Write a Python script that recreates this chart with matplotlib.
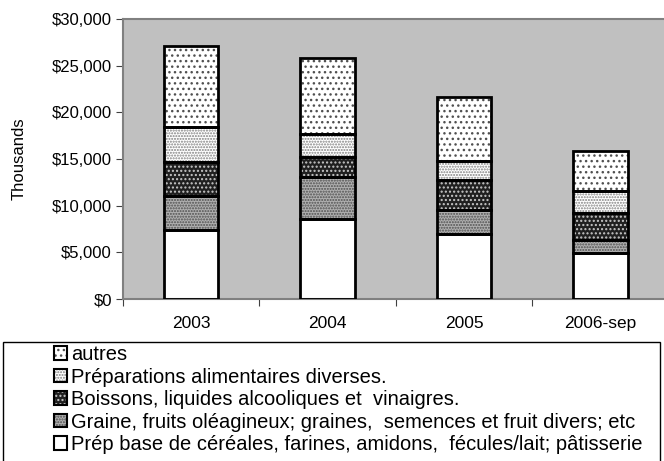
import matplotlib
matplotlib.use("Agg")
import matplotlib.pyplot as plt
import matplotlib.patches as mpatches
from matplotlib.legend_handler import HandlerTuple
import numpy as np
from matplotlib.ticker import FuncFormatter

plt.rcParams['font.family'] = ['Liberation Sans', 'DejaVu Sans']
plt.rcParams['hatch.linewidth'] = 1.0

# data (thousands of $)
years = ["2003", "2004", "2005", "2006-sep"]
cereales = [7350, 8550, 6950, 4900]
graine = [3650, 4550, 2600, 1400]
boissons = [3700, 2150, 3250, 2950]
preparations = [3700, 2450, 2000, 2300]
autres = [8700, 8100, 6800, 4350]

# label, values, face, hatch, hatch colour
series = [
    ("Prép base de céréales, farines, amidons,  fécules/lait; pâtisserie", cereales, "white", None, "white"),
    ("Graine, fruits oléagineux; graines,  semences et fruit divers; etc", graine, "#b0b0b0", "......", "#505050"),
    ("Boissons, liquides alcooliques et  vinaigres.", boissons, "#202020", "....", "#c8c8c8"),
    ("Préparations alimentaires diverses.", preparations, "white", "......", "#808080"),
    ("autres", autres, "white", "...", "#505050"),
]

fig = plt.figure(figsize=(6.64, 4.61), dpi=100)
ax = fig.add_axes([123/664, 1-299/461, (668.5-123)/664, 280/461])
ax.set_facecolor("#c0c0c0")

x = np.arange(len(years))
w = 0.4
bottom = np.zeros(len(years))
handles = []
for label, vals, fc, hatch, hc in series:
    vals = np.array(vals)
    ax.bar(x, vals, w, bottom=bottom, color=fc, hatch=hatch, edgecolor=hc, linewidth=0, zorder=2)
    ax.bar(x, vals, w, bottom=bottom, facecolor="none", edgecolor="black", linewidth=2, zorder=3)
    bottom += vals
    fill = mpatches.Patch(facecolor=fc, hatch=hatch, edgecolor=hc, linewidth=0)
    outline = mpatches.Patch(facecolor="none", edgecolor="black", linewidth=1.5)
    handles.append((fill, outline))

ax.set_ylim(0, 30000)
ax.set_xlim(-0.5, 3.5)
ax.set_yticks(np.arange(0, 30001, 5000))
ax.yaxis.set_major_formatter(FuncFormatter(lambda v, p: "${:,.0f}".format(v)))
ax.set_xticks(np.arange(-0.5, 3.6, 1.0))
ax.set_xticklabels([])
ax.set_xticks(x, minor=True)
ax.set_xticklabels(years, minor=True)
ax.tick_params(axis="x", which="minor", length=0, pad=12, labelsize=12.5)
ax.tick_params(axis="x", which="major", length=5, color="#404040")
ax.tick_params(axis="y", length=5, color="#404040", labelsize=12, pad=3)
for s in ax.spines.values():
    s.set_color("#808080")
    s.set_linewidth(1.5)
ax.set_ylabel("Thousands", fontsize=12)
ax.yaxis.set_label_coords(-0.176, 0.5)

# legend box spans the full width, cut by the bottom of the image
fig.patches.append(mpatches.Rectangle((3/664, -0.05), 657/664, 0.05 + 1-342/461,
                                      transform=fig.transFigure, fill=False,
                                      edgecolor="black", linewidth=1.0))
leg = fig.legend(handles[::-1], [s[0] for s in series][::-1],
                 handler_map={tuple: HandlerTuple(ndivide=1, pad=0)},
                 loc="upper left", bbox_to_anchor=(54/664, 1-345/461),
                 fontsize=14.5, frameon=False,
                 handlelength=0.65, handleheight=0.65, handletextpad=0.2,
                 labelspacing=0.175, borderpad=0, borderaxespad=0)

fig.savefig("out.png", dpi=100)
